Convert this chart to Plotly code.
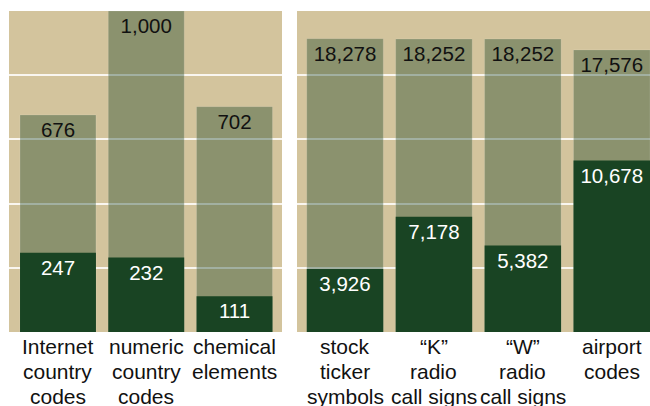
import plotly.graph_objects as go

# Code spaces: total possible codes vs. codes actually in use
left_labels = [["Internet", "country", "codes"],
               ["numeric", "country", "codes"],
               ["chemical", "elements"]]
left_possible = [676, 1000, 702]
left_used = [247, 232, 111]

right_labels = [["stock", "ticker", "symbols"],
                ["“K”", "radio", "call signs"],
                ["“W”", "radio", "call signs"],
                ["airport", "codes"]]
right_possible = [18278, 18252, 18252, 17576]
right_used = [3926, 7178, 5382, 10678]

TAN = "rgb(211,196,157)"
DARK = "rgb(25,68,35)"
LIGHT = "rgba(25,68,35,0.39)"
FONT = "Liberation Sans, Helvetica, Arial, sans-serif"
BAR_W = 0.86
H = 406
LINE_CENTERS_PX = [346, 371, 396]  # vertical centres of the category label lines


def fmt(vals):
    return [f"{v:,}" for v in vals]


fig = go.Figure()
annotations = []

for labels, possible, used, xa, ya in [
    (left_labels, left_possible, left_used, "x", "y"),
    (right_labels, right_possible, right_used, "x2", "y2"),
]:
    cats = [" ".join(lines) for lines in labels]
    fig.add_trace(go.Bar(
        x=cats, y=possible, xaxis=xa, yaxis=ya, width=BAR_W,
        marker=dict(color=LIGHT, line=dict(color="rgba(255,255,255,0.12)", width=1)),
        text=fmt(possible), textposition="inside", insidetextanchor="end",
        textangle=0, constraintext="none",
        textfont=dict(family=FONT, size=20.5, color="#111111"),
        hoverinfo="skip", showlegend=False,
    ))
    fig.add_trace(go.Bar(
        x=cats, y=used, xaxis=xa, yaxis=ya, width=BAR_W,
        marker=dict(color=DARK, line=dict(width=0)),
        text=fmt(used), textposition="inside", insidetextanchor="end",
        textangle=0, constraintext="none",
        textfont=dict(family=FONT, size=20.5, color="white"),
        hoverinfo="skip", showlegend=False,
    ))
    # multi-line category labels with tight line spacing
    for cat, lines in zip(cats, labels):
        for i, line in enumerate(lines):
            annotations.append(dict(
                x=cat, xref=xa, y=1 - LINE_CENTERS_PX[i] / H, yref="paper",
                text=line, showarrow=False, xanchor="center", yanchor="middle",
                font=dict(family=FONT, size=21, color="#111111"),
            ))

y_dom = [1 - 332 / H, 1 - 11 / H]
axis_common = dict(showline=False, ticks="", zeroline=False, automargin=False)

fig.update_layout(
    width=650, height=H,
    margin=dict(l=0, r=0, t=0, b=0, autoexpand=False),
    paper_bgcolor="white",
    barmode="overlay",
    font=dict(family=FONT, size=21, color="#111111"),
    xaxis=dict(domain=[9 / 650, 282 / 650], range=[-0.555, 2.538],
               showgrid=False, showticklabels=False, **axis_common),
    xaxis2=dict(domain=[297 / 650, 1.0], range=[-0.54, 3.43], anchor="y2",
                showgrid=False, showticklabels=False, **axis_common),
    yaxis=dict(domain=y_dom, range=[0, 1000], tickvals=[200, 400, 600, 800],
               showticklabels=False, showgrid=True,
               gridcolor="rgba(255,255,255,0.85)", gridwidth=1.6, **axis_common),
    yaxis2=dict(domain=y_dom, range=[0, 20000], tickvals=[4000, 8000, 12000, 16000],
                anchor="x2", showticklabels=False, showgrid=True,
                gridcolor="rgba(255,255,255,0.85)", gridwidth=1.6, **axis_common),
    plot_bgcolor=TAN,
    annotations=annotations,
)

fig.write_html("out.html")
